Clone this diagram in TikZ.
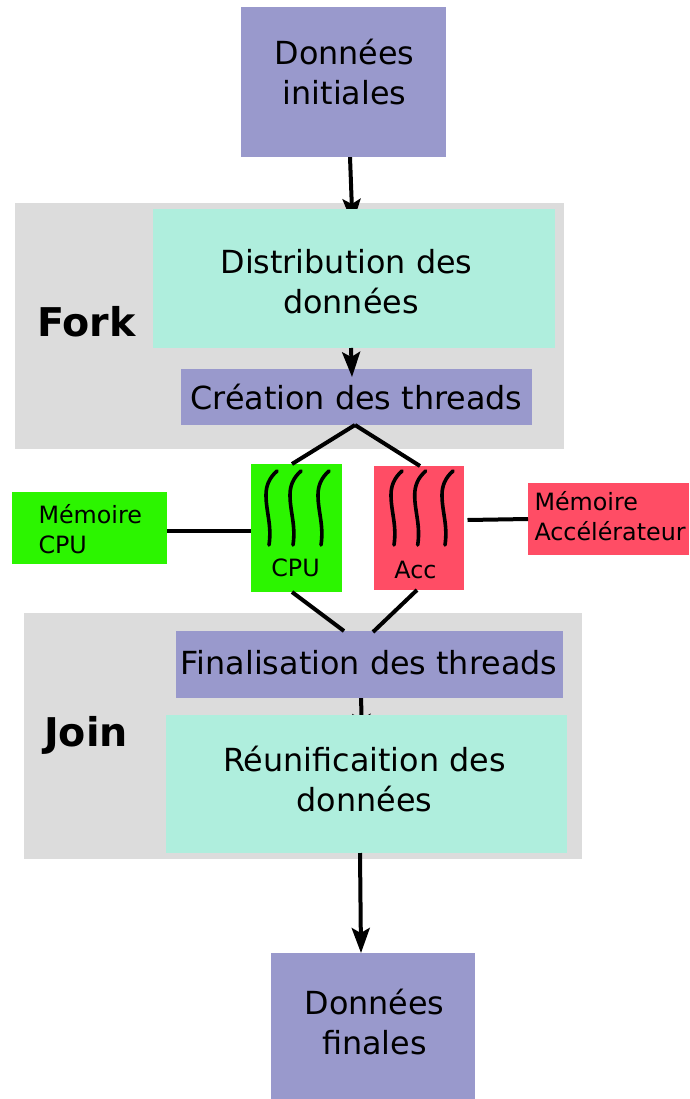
\documentclass[tikz,border=0pt]{standalone}
\usepackage{fontspec}
\setmainfont{DejaVu Sans}
\usetikzlibrary{arrows.meta}
\pgfdeclarelayer{frames}
\pgfdeclarelayer{links}
\pgfsetlayers{frames,links,main}
\definecolor{violetbox}{HTML}{9999CC}
\definecolor{tealbox}{HTML}{AFEEDD}
\definecolor{greyframe}{HTML}{DCDCDC}
\definecolor{greenbox}{HTML}{2CF500}
\definecolor{redbox}{HTML}{FF4D65}

\begin{document}
\begin{tikzpicture}[x=1pt,y=-1pt,>={Stealth[length=25pt,width=18pt,inset=5pt]},
    inner sep=0pt,outer sep=0pt,
    box/.style={rectangle,fill=#1},
    big/.style={font=\fontsize{31.8}{40}\selectfont,align=center},
    small/.style={font=\fontsize{23.8}{30}\selectfont,align=left},
    heading/.style={font=\bfseries\fontsize{39.6}{46}\selectfont},
    link/.style={line width=4pt},
    thread/.style={line width=3.6pt,line cap=round}]
    \useasboundingbox (0,0) rectangle (689,1099);

    \begin{pgfonlayer}{frames}
    \node[box=greyframe,minimum width=549pt,minimum height=246pt] (fork_frame) at (289.5,326) {};
    \node[box=greyframe,minimum width=558pt,minimum height=246pt] (join_frame) at (303,736)   {};
    \end{pgfonlayer}

    \node[box=violetbox,minimum width=205pt,minimum height=150pt] (ini_box)   at (343.5,82)   {};
    \node[box=tealbox,  minimum width=402pt,minimum height=139pt] (dist_box)  at (354,278.5)  {};
    \node[box=violetbox,minimum width=351pt,minimum height=56pt]  (crea_box)  at (356.5,397)  {};
    \node[box=greenbox, minimum width=91pt, minimum height=128pt] (cpu_box)   at (296.5,528)  {};
    \node[box=redbox,   minimum width=90pt, minimum height=124pt] (acc_box)   at (419,528)    {};
    \node[box=greenbox, minimum width=155pt,minimum height=72pt]  (mcpu_box)  at (89.5,528)   {};
    \node[box=redbox,   minimum width=161pt,minimum height=72pt]  (macc_box)  at (608.5,519)  {};
    \node[box=violetbox,minimum width=387pt,minimum height=67pt]  (fin_box)   at (369.5,664.5){};
    \node[box=tealbox,  minimum width=401pt,minimum height=138pt] (reun_box)  at (366.5,784)  {};
    \node[box=violetbox,minimum width=204pt,minimum height=146pt] (end_box)   at (373,1026)   {};

    \node[big]     (ini_txt)  at (344.5,72) {Données\\initiales};
    \node[big]     (dist_txt) at (346.5,281.5){Distribution des\\\hspace{9pt}données};
    \node[big]     (crea_txt) at (356.5,397){Création des threads};
    \node[big]     (fin_txt)  at (369,663)  {Finalisation des threads};
    \node[big]     (reun_txt) at (364.5,779){Réunificaition des\\données};
    \node[big]     (end_txt)  at (374.5,1022){Données\\finales};
    \node[heading] (fork_txt) at (86.5,322) {Fork};
    \node[heading] (join_txt) at (86,735)   {Join};
    \node[small,anchor=west] (mcpu_txt) at (38.5,529) {Mémoire\\CPU};
    \node[small,anchor=west] (macc_txt) at (534.5,516){Mémoire\\Accélérateur};
    \node[small]   (cpu_txt)  at (295.5,568){CPU};
    \node[small]   (acc_txt)  at (415.5,570){Acc};

    \coordinate (fork_top)   at (355,425);
    \coordinate (join_left)  at (344,631);
    \coordinate (join_right) at (373,632);

    \begin{pgfonlayer}{links}
    \draw[link,->] ([xshift=6.5pt]ini_box.south) -- ([xshift=-1.5pt,yshift=-15pt]dist_box.north);
    \draw[link,->] ([xshift=-8.5pt,yshift=3pt]fin_box.south) -- ([xshift=-4.5pt,yshift=-24pt]reun_box.north);
    \end{pgfonlayer}

    \draw[link,->] ([xshift=-3pt]dist_box.south) -- ([xshift=-4.5pt,yshift=-8pt]crea_box.north);
    \draw[link,->] ([xshift=-6.5pt]reun_box.south) -- ([xshift=-12pt]end_box.north);
    \draw[link]    (fork_top) -- ([xshift=-4.5pt]cpu_box.north);
    \draw[link]    (fork_top) -- ([xshift=1pt]acc_box.north);
    \draw[link]    ([xshift=-4.5pt]cpu_box.south) -- (join_left);
    \draw[link]    ([xshift=-2pt]acc_box.south) -- (join_right);
    \draw[link]    (mcpu_box.east |- 0,531) -- (cpu_box.west |- 0,531);
    \draw[link]    ([xshift=3.5pt,yshift=-1pt]acc_box.east |- macc_box.west) -- (macc_box.west);

    \foreach \x in {277,301,329,402,425.7,453}
        \draw[thread] (\x,471) .. controls ({\x-8},478) and ({\x-11},486) .. ({\x-11},495)
                      .. controls ({\x-11},512) and ({\x-5},525) .. ({\x-8},545);
\end{tikzpicture}
\end{document}
